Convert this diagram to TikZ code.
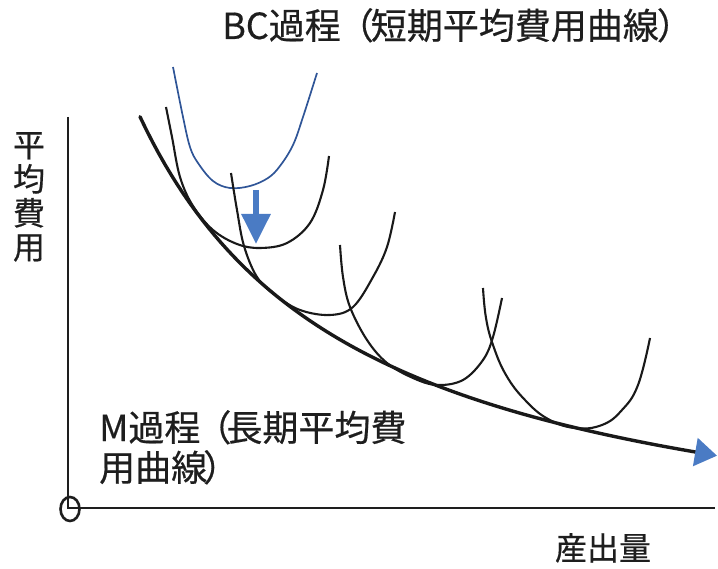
\documentclass[tikz,border=0pt]{standalone}
\usepackage{fontspec}
\setmainfont{Noto Sans CJK JP}[FakeBold=0.5]
\usetikzlibrary{arrows.meta}
\definecolor{txt}{HTML}{1E1E1E}
\definecolor{arrblue}{HTML}{4A7BC4}
\definecolor{curveblue}{HTML}{2F5597}
\begin{document}
\begin{tikzpicture}[x=1pt,y=-1pt,
  axisline/.style={draw=txt, line width=2pt},
  lac/.style={draw=black!90, line width=3.4pt},
  sac/.style={draw=black!90, line width=2.1pt},
  sacblue/.style={draw=curveblue, line width=1.7pt},
  label/.style={text=txt, inner sep=0pt, font=\fontsize{36}{40}\selectfont},
  smalllabel/.style={text=txt, inner sep=0pt, font=\fontsize{32}{34}\selectfont}
]
\useasboundingbox (0,0) rectangle (718,569);

% axes
\coordinate (ytop) at (68,117);
\coordinate (orig) at (68,508);
\coordinate (xend) at (715,508);
\draw[axisline] (ytop) -- (orig) -- (xend);
\draw[draw=txt, line width=2.6pt] (70,509) ellipse [x radius=9.5pt, y radius=12pt];

% labels
\node[label, anchor=base west] (bc) at (222,39)
  {BC過程\kern-3pt（\kern-3pt短期平均費用曲線\kern-2pt）};
\node[label, anchor=base west, align=left] (m) at (99,481)
  {M過程\kern-5pt（\kern-5pt長期平均費\\用曲線\kern-4pt）};
\node[smalllabel, anchor=north, align=center] (yl) at (29,132)
  {平\\均\\費\\用};
\node[smalllabel, anchor=base] (xl) at (603,560) {産出量};

% short-run curves
\draw[sacblue] plot[smooth, tension=0.6] coordinates {(173,67) (183,117) (190,147) (198,163) (213,181) (230,188) (250,186) (268,178) (280,166) (293,145) (303,117) (317,73)};
\draw[sac] plot[smooth, tension=0.6] coordinates {(166,107) (172,137) (180,177) (193,206) (213,230) (237,244) (260,248) (287,243) (310,223) (323,190) (329,156)};
\draw[sac] plot[smooth, tension=0.6] coordinates {(231,173) (237,210) (244,246) (257,277) (275,295) (300,310) (330,315) (353,307) (373,277) (387,247) (395,212)};
\draw[sac] plot[smooth, tension=0.6] coordinates {(340,245) (343,277) (350,307) (367,340) (387,363) (413,378) (437,385) (463,380) (483,360) (493,337) (502,298)};
\draw[sac] plot[smooth, tension=0.7] coordinates {(483,288) (486,318) (493,345) (506,375) (525,400) (548,419) (575,428) (602,425) (622,410) (638,385) (650,338)};

% long-run curve
\draw[lac, line cap=round] plot[domain=140:695, samples=90] (\x, {584.8-1029.18/((\x+80)*0.01)});
\coordinate (lacend) at (695,452.0);
\coordinate (lactip) at (717,455.7);
\draw[lac, -{Triangle[length=22pt,width=28pt,color=arrblue]}] (lacend) -- (lactip);

% down arrow
\coordinate (dA) at (256,190);
\coordinate (dB) at (256,244);
\draw[draw=arrblue, line width=6pt, -{Triangle[length=30pt,width=28pt]}] (dA) -- (dB);
\end{tikzpicture}
\end{document}
